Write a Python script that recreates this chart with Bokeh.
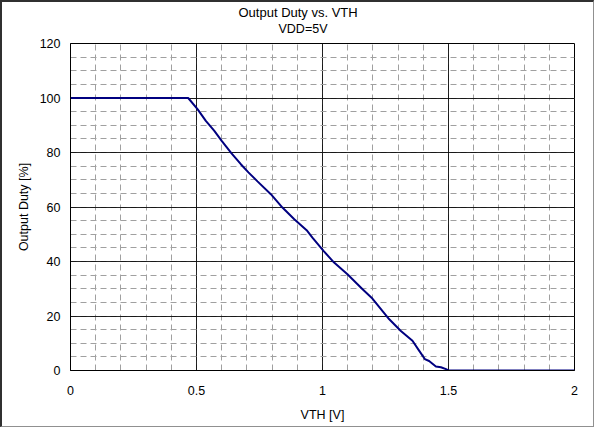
from bokeh.plotting import figure
from bokeh.models import SingleIntervalTicker, Range1d, Title
from bokeh.embed import file_html
from bokeh.resources import INLINE

# data
vth = [0.0, 0.467, 0.504, 0.537, 0.570, 0.600, 0.639, 0.676, 0.706, 0.742, 0.795,
       0.841, 0.888, 0.937, 0.960, 1.004, 1.046, 1.099, 1.159, 1.198, 1.265, 1.311,
       1.357, 1.384, 1.406, 1.423, 1.450, 1.470, 1.490, 1.500, 2.0]
duty = [100, 100, 95.9, 91.6, 88.0, 84.3, 79.7, 75.7, 72.7, 69.4, 64.7,
        59.8, 55.5, 51.5, 48.8, 43.9, 39.6, 35.3, 29.8, 26.4, 18.8, 14.5,
        10.9, 7.2, 4.2, 3.5, 1.5, 1.2, 0.5, 0, 0]

title_main = "Output Duty vs. VTH"
title_sub = "VDD=5V"
x_label = "VTH [V]"
y_label = "Output Duty [%]"

FONT = "Liberation Sans"

p = figure(width=594, height=427, output_backend="svg", toolbar_location=None,
           x_range=Range1d(0, 2), y_range=Range1d(0, 120),
           min_border_left=68, min_border_right=22, min_border_top=41, min_border_bottom=59,
           background_fill_color="white", border_fill_color="white")
p.styles = {"border-left": "2px solid #303030", "border-top": "2px solid #303030",
            "border-right": "1px solid #909090", "border-bottom": "1px solid #909090"}

p.outline_line_color = "black"
p.outline_line_width = 1

# titles: a white (invisible) spacer panel, then the subtitle, then the main title on top
p.add_layout(Title(text=".", text_font=FONT, text_font_size="5px", text_color="white",
                   standoff=2), "above")
p.add_layout(Title(text=title_sub, align="left", offset=208, text_font=FONT,
                   text_font_size="12.5px", text_font_style="normal", text_color="black",
                   standoff=0), "above")
p.add_layout(Title(text=title_main, align="left", offset=168, text_font=FONT,
                   text_font_size="13px", text_font_style="normal", text_color="black",
                   standoff=0), "above")

p.xaxis.ticker = SingleIntervalTicker(interval=0.5, num_minor_ticks=5)
p.yaxis.ticker = SingleIntervalTicker(interval=20, num_minor_ticks=4)

for ax in (p.xaxis, p.yaxis):
    ax.axis_line_color = "black"
    ax.major_tick_line_color = None
    ax.minor_tick_line_color = None
    ax.major_tick_out = 0
    ax.major_tick_in = 0
    ax.minor_tick_out = 0
    ax.minor_tick_in = 0
    ax.major_label_text_font = FONT
    ax.major_label_text_font_size = "12.5px"
    ax.major_label_text_color = "black"
    ax.axis_label_text_font = FONT
    ax.axis_label_text_font_size = "12.5px"
    ax.axis_label_text_font_style = "normal"
    ax.axis_label_text_color = "black"

p.xaxis.axis_label = x_label
p.yaxis.axis_label = y_label
p.xaxis.major_label_standoff = 15
p.yaxis.major_label_standoff = 10
p.xaxis.axis_label_standoff = 10
p.yaxis.axis_label_standoff = 6

for g in (p.xgrid, p.ygrid):
    g.grid_line_color = "black"
    g.grid_line_alpha = 0.85
    g.grid_line_width = 1
    g.minor_grid_line_color = "#a0a0a0"
    g.minor_grid_line_dash = "6 4"
    g.minor_grid_line_width = 1

p.line(vth, duty, line_color="#000080", line_width=2)

open("out.html", "w").write(file_html(p, INLINE))
